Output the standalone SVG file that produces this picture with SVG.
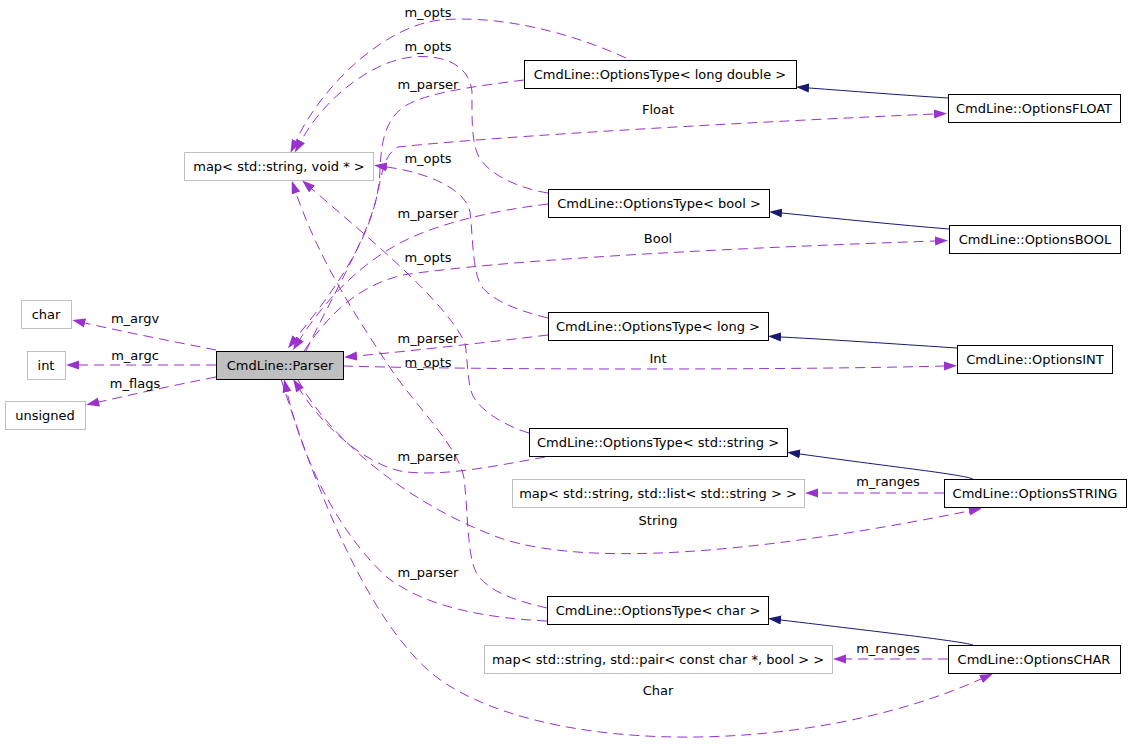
<svg xmlns="http://www.w3.org/2000/svg" width="1131" height="748" viewBox="0 0 1131 748">
<defs>
<style>
text{font-family:"DejaVu Sans","Liberation Sans",sans-serif;font-size:13px;fill:#000;text-anchor:middle}
.n rect{fill:#fff;stroke:#000;stroke-width:1}
.ext rect{stroke:#bfbfbf}
.cur rect{fill:#bfbfbf}
.d{fill:none;stroke:#9a32cd;stroke-width:1;stroke-dasharray:10,6;marker-end:url(#ap)}
.i{fill:none;stroke:#191970;stroke-width:1;marker-end:url(#an)}
</style>
<marker id="ap" viewBox="0 0 13 10" refX="0" refY="5" markerWidth="13" markerHeight="10" markerUnits="userSpaceOnUse" orient="auto"><path d="M0,0.5 L13,5 L0,9.5 z" fill="#9a32cd"/></marker>
<marker id="an" viewBox="0 0 13 10" refX="0" refY="5" markerWidth="13" markerHeight="10" markerUnits="userSpaceOnUse" orient="auto"><path d="M0,0.5 L13,5 L0,9.5 z" fill="#191970"/></marker>
</defs>
<rect width="1131" height="748" fill="#fff"/>
<g id="edges">
<path class="d" d="M626,58 C565,30 495,15 440,20 C385,26 322,85 296,141"/>
<path class="d" d="M548,193 C522,189 490,176 479,157 C471,142 472,115 472,92 C470,66 445,54 412,57 C368,62 322,102 301,141"/>
<path class="d" d="M524,80 C478,86 428,92 405,106 C384,120 381,145 380,170 C378,235 330,295 296,338"/>
<path class="d" d="M306,351 C330,300 366,240 376,200 C382,175 383,155 398,147 C500,136 750,122 934,114"/>
<path class="d" d="M548,204 C498,210 440,222 400,243 C355,267 322,305 300,339"/>
<path class="d" d="M304,351 C330,312 360,285 403,275 C470,265 620,252 935,241"/>
<path class="d" d="M548,318 C518,311 492,300 482,287 C472,272 473,235 470,212 C466,190 430,173 387,167"/>
<path class="d" d="M548,335 C490,342 420,350 357,356"/>
<path class="d" d="M343,366 C480,370 800,370 944,366"/>
<path class="d" d="M529,433 C505,426 481,411 473,396 C467,383 468,360 465,343 C445,300 365,235 312,189"/>
<path class="d" d="M547,608 C512,600 486,590 476,572 C467,555 468,510 464,478 C458,447 420,410 395,375 C358,320 320,262 296,193"/>
<path class="d" d="M547,621 C482,618 425,606 388,578 C345,540 305,470 287,392"/>
<path class="d" d="M545,457 C500,465 440,478 400,471 C362,462 322,425 300,390"/>
<path class="d" d="M281,379 C310,470 360,610 430,672 C530,755 800,760 981,679"/>
<path class="d" d="M298,380 C330,440 410,505 500,538 C600,572 800,545 969,511"/>
<path class="d" d="M944,493 L818,493"/>
<path class="d" d="M948,659 L846,659"/>
<path class="d" d="M216,350 C170,341 120,331 85,323"/>
<path class="d" d="M216,365 L79,365"/>
<path class="d" d="M216,377 C170,386 130,395 99,402"/>
<path class="i" d="M948,98 C900,95 850,91 809,88"/>
<path class="i" d="M949,229 C900,225 840,219 782,213"/>
<path class="i" d="M957,348 C910,345 840,340 781,337"/>
<path class="i" d="M973,479 C960,474 900,468 800,454"/>
<path class="i" d="M973,645 C960,641 880,632 781,620"/>
<g id="edge-labels">
<text x="428" y="17">m_opts</text>
<text x="428" y="51">m_opts</text>
<text x="428" y="89">m_parser</text>
<text x="658" y="114">Float</text>
<text x="428" y="163">m_opts</text>
<text x="428" y="218">m_parser</text>
<text x="658" y="243">Bool</text>
<text x="428" y="262">m_opts</text>
<text x="135" y="323">m_argv</text>
<text x="428" y="343">m_parser</text>
<text x="135" y="360">m_argc</text>
<text x="428" y="367">m_opts</text>
<text x="658" y="363">Int</text>
<text x="135" y="388">m_flags</text>
<text x="428" y="461">m_parser</text>
<text x="888" y="486">m_ranges</text>
<text x="658" y="525">String</text>
<text x="428" y="577">m_parser</text>
<text x="888" y="653">m_ranges</text>
<text x="658" y="695">Char</text>
</g>
</g>
<g id="map_void" class="n ext"><rect x="184.5" y="152.5" width="189" height="28"/><text x="279" y="171">map&lt; std::string, void * &gt;</text></g>
<g id="ot_longdouble" class="n"><rect x="524.5" y="60.5" width="272" height="28"/><text x="660" y="79">CmdLine::OptionsType&lt; long double &gt;</text></g>
<g id="opt_float" class="n"><rect x="948.5" y="94.5" width="172" height="28"/><text x="1034" y="113">CmdLine::OptionsFLOAT</text></g>
<g id="ot_bool" class="n"><rect x="548.5" y="189.5" width="221" height="28"/><text x="659" y="208">CmdLine::OptionsType&lt; bool &gt;</text></g>
<g id="opt_bool" class="n"><rect x="949.5" y="225.5" width="171" height="28"/><text x="1035" y="244">CmdLine::OptionsBOOL</text></g>
<g id="t_char" class="n ext"><rect x="21.5" y="300.5" width="50" height="28"/><text x="46" y="319">char</text></g>
<g id="t_int" class="n ext"><rect x="27.5" y="351.5" width="38" height="28"/><text x="46" y="370">int</text></g>
<g id="t_unsigned" class="n ext"><rect x="5.5" y="401.5" width="80" height="28"/><text x="45" y="420">unsigned</text></g>
<g id="parser" class="n cur"><rect x="216.5" y="351.5" width="127" height="28"/><text x="280" y="370">CmdLine::Parser</text></g>
<g id="ot_long" class="n"><rect x="548.5" y="312.5" width="220" height="28"/><text x="658" y="331">CmdLine::OptionsType&lt; long &gt;</text></g>
<g id="opt_int" class="n"><rect x="957.5" y="345.5" width="155" height="28"/><text x="1035" y="364">CmdLine::OptionsINT</text></g>
<g id="ot_string" class="n"><rect x="529.5" y="428.5" width="258" height="28"/><text x="658" y="447">CmdLine::OptionsType&lt; std::string &gt;</text></g>
<g id="map_list" class="n ext"><rect x="512.5" y="479.5" width="292" height="28"/><text x="658" y="498">map&lt; std::string, std::list&lt; std::string &gt; &gt;</text></g>
<g id="opt_string" class="n"><rect x="944.5" y="479.5" width="182" height="28"/><text x="1035" y="498">CmdLine::OptionsSTRING</text></g>
<g id="ot_char" class="n"><rect x="547.5" y="596.5" width="221" height="28"/><text x="658" y="615">CmdLine::OptionsType&lt; char &gt;</text></g>
<g id="map_pair" class="n ext"><rect x="484.5" y="645.5" width="348" height="28"/><text x="658" y="664">map&lt; std::string, std::pair&lt; const char *, bool &gt; &gt;</text></g>
<g id="opt_char" class="n"><rect x="948.5" y="645.5" width="172" height="28"/><text x="1034" y="664">CmdLine::OptionsCHAR</text></g>
</svg>
